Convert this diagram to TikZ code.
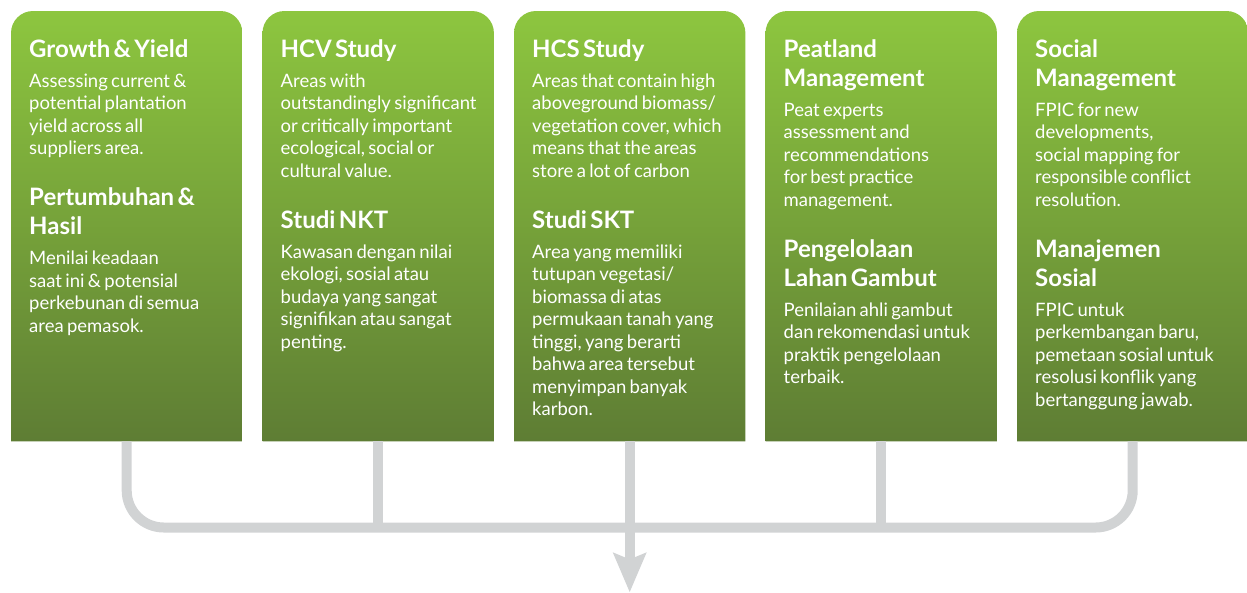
\documentclass[tikz,border=0pt]{standalone}
\usepackage{fontspec}
\setmainfont{Lato}
\usetikzlibrary{arrows.meta,calc}

\definecolor{leafTop}{RGB}{141,198,63}
\definecolor{leafMid}{RGB}{128,180,60}
\definecolor{leafBottom}{RGB}{94,125,52}
\definecolor{railGray}{RGB}{209,211,212}

\newcommand{\panelhead}[1]{{\fontsize{24pt}{29pt}\selectfont\bfseries #1\par}\vspace{7.7pt}}
\newcommand{\panelbody}[1]{{\fontsize{18.5pt}{22.5pt}\selectfont #1\par}}
\newcommand{\panelgap}{\vspace{21.8pt}}

\tikzset{
  panel/.style={minimum width=231pt, minimum height=430pt, inner sep=0pt, anchor=north west},
  panelfill/.style={top color=leafTop, middle color=leafMid, bottom color=leafBottom, rounded corners=22pt},
  paneltext/.style={anchor=north west, text width=214pt, align=left, inner sep=0pt, text=white},
  rail/.style={draw=railGray, line width=10pt},
}

\begin{document}
\begin{tikzpicture}[x=1pt,y=1pt]
        \useasboundingbox (0,0) rectangle (1247,-592);

        % green panels
        \foreach \name [count=\i from 0] in {growth,hcv,hcs,peat,social} {
                \node[panel] (\name) at (11+251.5*\i,-11) {};
                \shade[panelfill] (\name.south west) -- (\name.north west) -- (\name.north east) -- (\name.south east);
            }

        \node[paneltext] (growth-text) at ([shift={(18,-28)}]growth.north west) {%
                \panelhead{Growth \& Yield}
                \panelbody{Assessing current \&\\potential plantation\\yield across all\\suppliers area.}
                \panelgap
                \panelhead{Pertumbuhan \&\\Hasil}
                \panelbody{Menilai keadaan\\saat ini \& potensial\\perkebunan di semua\\area pemasok.}};

        \node[paneltext] (hcv-text) at ([shift={(18,-28)}]hcv.north west) {%
                \panelhead{HCV Study}
                \panelbody{Areas with\\outstandingly significant\\or critically important\\ecological, social or\\cultural value.}
                \panelgap
                \panelhead{Studi NKT}
                \panelbody{Kawasan dengan nilai\\ekologi, sosial atau\\budaya yang sangat\\signifikan atau sangat\\penting.}};

        \node[paneltext] (hcs-text) at ([shift={(18,-28)}]hcs.north west) {%
                \panelhead{HCS Study}
                \panelbody{Areas that contain high\\aboveground biomass/\\vegetation cover, which\\means that the areas\\store a lot of carbon}
                \panelgap
                \panelhead{Studi SKT}
                \panelbody{Area yang memiliki\\tutupan vegetasi/\\biomassa di atas\\permukaan tanah yang\\tinggi, yang berarti\\bahwa area tersebut\\menyimpan banyak\\karbon.}};

        \node[paneltext] (peat-text) at ([shift={(18,-28)}]peat.north west) {%
                \panelhead{Peatland\\Management}
                \panelbody{Peat experts\\assessment and\\recommendations\\for best practice\\management.}
                \panelgap
                \panelhead{Pengelolaan\\Lahan Gambut}
                \panelbody{Penilaian ahli gambut\\dan rekomendasi untuk\\praktik pengelolaan\\terbaik.}};

        \node[paneltext] (social-text) at ([shift={(18,-28)}]social.north west) {%
                \panelhead{Social\\Management}
                \panelbody{FPIC for new\\developments,\\social mapping for\\responsible conflict\\resolution.}
                \panelgap
                \panelhead{Manajemen\\Sosial}
                \panelbody{FPIC untuk\\perkembangan baru,\\pemetaan sosial untuk\\resolusi konflik yang\\bertanggung jawab.}};

        % grey collector
        \coordinate (bus) at (0,-527.5);
        \coordinate (outlet) at ($(hcs.south)+(0,-151)$);

        \draw[rail, rounded corners=37pt] (growth.south) -- (growth.south |- bus) -- (social.south |- bus) -- (social.south);
        \draw[rail] (hcv.south) -- (hcv.south |- bus);
        \draw[rail] (peat.south) -- (peat.south |- bus);
        \draw[rail, -{Stealth[width=32pt,length=39pt,inset=6pt]}] (hcs.south) -- (outlet);
    \end{tikzpicture}
\end{document}
